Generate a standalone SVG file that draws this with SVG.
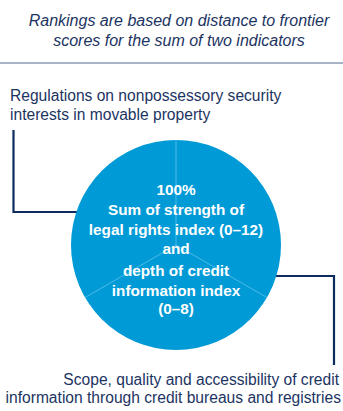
<svg xmlns="http://www.w3.org/2000/svg" width="343" height="411" viewBox="0 0 343 411">
<style>
.t{font-family:"Liberation Sans",Arial,sans-serif;font-size:15.6px;fill:#1c3462}
.ti{font-style:italic;text-anchor:middle;font-size:16px}
.c{font-family:"Liberation Sans",Arial,sans-serif;font-size:15.3px;font-weight:bold;fill:#ffffff;text-anchor:middle}
.conn{fill:none;stroke:#0c2c5e;stroke-width:2.2}
.rad{stroke:#62c3ec;stroke-width:0.8}
</style>
<rect width="343" height="411" fill="#ffffff"/>
<g id="title">
<text class="t ti" x="179" y="26">Rankings are based on distance to frontier</text>
<text class="t ti" x="179" y="45.5">scores for the sum of two indicators</text>
<line x1="0" y1="63" x2="343" y2="63" stroke="#8a9ab4" stroke-width="1.6"/>
</g>
<g id="connectors">
<polyline class="conn" points="13.5,130 13.5,212 80,212"/>
<polyline class="conn" points="272,276 334,276 334,365"/>
</g>
<g id="pie">
<circle cx="176" cy="245" r="105" fill="#009ad6"/>
<line class="rad" x1="176" y1="245" x2="176" y2="140"/>
<line class="rad" x1="176" y1="245" x2="85.1" y2="297.5"/>
<line class="rad" x1="176" y1="245" x2="266.9" y2="297.5"/>
<text class="c" x="176" y="195">100%</text>
<text class="c" x="176" y="215">Sum of strength of</text>
<text class="c" x="176" y="234.5">legal rights index (0–12)</text>
<text class="c" x="176" y="254">and</text>
<text class="c" x="176" y="276">depth of credit</text>
<text class="c" x="176" y="295.5">information index</text>
<text class="c" x="176" y="314">(0–8)</text>
</g>
<g id="label-left">
<text class="t" x="10" y="101">Regulations on nonpossessory security</text>
<text class="t" x="10" y="120">interests in movable property</text>
</g>
<g id="label-right">
<text class="t" x="339" y="385" text-anchor="end">Scope, quality and accessibility of credit</text>
<text class="t" x="341" y="403" text-anchor="end">information through credit bureaus and registries</text>
</g>
</svg>
